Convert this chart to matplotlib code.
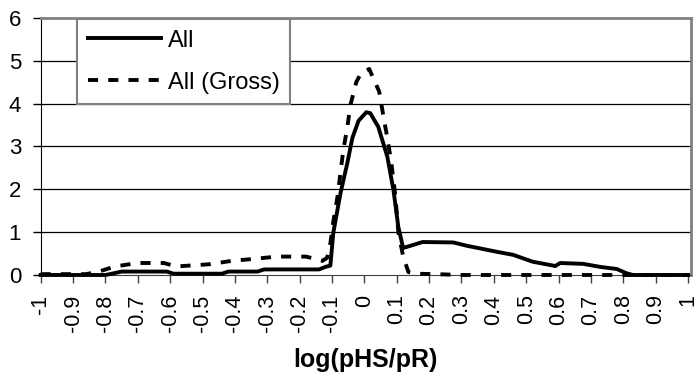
import matplotlib
matplotlib.use("Agg")
import matplotlib.pyplot as plt

plt.rcParams['font.family'] = ['Liberation Sans', 'DejaVu Sans']

# "All" curve
ALL_X = [-1.00, -0.80, -0.78, -0.75, -0.61, -0.59, -0.44, -0.42, -0.33, -0.31,
         -0.14, -0.12, -0.105, -0.096, -0.074, -0.053, -0.037, -0.018, 0.006, 0.018,
         0.043, 0.071, 0.09, 0.105, 0.12, 0.15, 0.18, 0.275, 0.318, 0.358,
         0.41, 0.46, 0.52, 0.59, 0.605, 0.676, 0.728, 0.78, 0.81, 0.83, 1.00]
ALL_Y = [0.00, 0.00, 0.03, 0.08, 0.08, 0.03, 0.03, 0.08, 0.08, 0.13,
         0.13, 0.19, 0.22, 0.98, 1.90, 2.60, 3.20, 3.60, 3.80, 3.78,
         3.46, 2.76, 1.98, 1.12, 0.63, 0.70, 0.77, 0.76, 0.68, 0.62,
         0.54, 0.47, 0.31, 0.21, 0.28, 0.26, 0.19, 0.14, 0.04, 0.00, 0.00]

# "All (Gross)" curve
GROSS_X = [-1.00, -0.86, -0.82, -0.77, -0.70, -0.62, -0.58, -0.48, -0.41, -0.35,
           -0.27, -0.18, -0.13, -0.115, -0.105, -0.096, -0.083, -0.074, -0.065, -0.053,
           -0.043, -0.025, -0.01, 0.015, 0.046, 0.059, 0.071, 0.083, 0.096, 0.105,
           0.12, 0.136, 0.16, 0.22, 0.30, 1.00]
GROSS_Y = [0.02, 0.02, 0.08, 0.20, 0.28, 0.28, 0.20, 0.25, 0.33, 0.37,
           0.43, 0.43, 0.33, 0.40, 0.74, 1.24, 1.83, 2.37, 2.92, 3.43,
           3.97, 4.50, 4.72, 4.81, 4.28, 3.70, 3.20, 2.64, 1.83, 1.00,
           0.43, 0.07, 0.03, 0.02, 0.00, 0.00]

X_TICKS = [-1, -0.9, -0.8, -0.7, -0.6, -0.5, -0.4, -0.3, -0.2, -0.1, 0,
           0.1, 0.2, 0.3, 0.4, 0.5, 0.6, 0.7, 0.8, 0.9, 1]
X_LABELS = ['-1', '-0.9', '-0.8', '-0.7', '-0.6', '-0.5', '-0.4', '-0.3', '-0.2', '-0.1', '0',
            '0.1', '0.2', '0.3', '0.4', '0.5', '0.6', '0.7', '0.8', '0.9', '1']
Y_TICKS = [0, 1, 2, 3, 4, 5, 6]

fig = plt.figure(figsize=(6.94, 3.83), dpi=100)
ax = fig.add_axes([0.0586, 0.282, 0.937, 0.671])

for y in Y_TICKS[1:-1]:
    ax.axhline(y, color='black', linewidth=0.9, zorder=1)

ax.plot(ALL_X, ALL_Y, color='black', linewidth=2.8, label='All',
        solid_joinstyle='round', clip_on=False, zorder=3)
ax.plot(GROSS_X, GROSS_Y, color='black', linewidth=2.8, linestyle=(0, (2.6, 2.6)),
        label='All (Gross)', clip_on=False, zorder=3)

ax.set_xlim(-1, 1.009)
ax.set_ylim(0, 6)
ax.set_xticks(X_TICKS)
ax.set_xticklabels(X_LABELS, rotation=90, fontsize=15.5)
ax.set_yticks(Y_TICKS)
ax.set_yticklabels([str(v) for v in Y_TICKS], fontsize=16)
ax.tick_params(axis='x', direction='out', length=6, width=1, color='#404040', pad=8)
ax.tick_params(axis='y', direction='out', length=6, width=1, color='black', pad=8)

ax.spines['left'].set_color('black')
ax.spines['bottom'].set_color('#404040')
ax.spines['top'].set_color('#808080')
ax.spines['right'].set_color('#808080')
ax.spines['top'].set_linewidth(2)
ax.spines['right'].set_linewidth(2)

ax.set_xlabel('log(pHS/pR)', fontsize=18, fontweight='bold', labelpad=12)

leg = ax.legend(loc='upper left', bbox_to_anchor=(0.056, 0.996), borderaxespad=0,
                fontsize=17, handlelength=3.1, handletextpad=0.3, labelspacing=0.85,
                borderpad=0.45, fancybox=False, framealpha=1, edgecolor='#808080')
leg.get_frame().set_linewidth(1.5)

fig.savefig('out.png', dpi=100)
plt.close(fig)
